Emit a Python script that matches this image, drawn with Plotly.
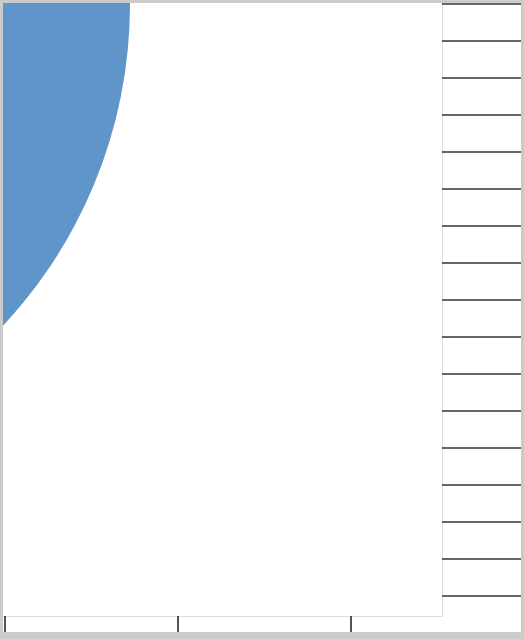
import plotly.graph_objects as go

# ---- data ----
rug_x = [1, 2, 3]
rug_y = [1, 2, 3, 4, 5, 6, 7, 8, 9, 10, 11, 12, 13, 14, 15, 16, 17]
bubble_x = [-1]
bubble_y = [17]
bubble_size = [942]

# ---- layout constants (style) ----
W, H = 524, 639
ML, MR, MT, MB = 3, 3, 3, 7
main_xdom = [0, 0.8475]
right_xdom = [0.8475, 1]
main_ydom = [0.02544, 1]
bottom_ydom = [0, 0.02544]
x_range = [0.98844, 3.52601]
y_range = [0.4595, 17.027]

fig = go.Figure()

fig.add_trace(go.Scatter(
    x=bubble_x, y=bubble_y, mode="markers",
    marker=dict(size=bubble_size, sizemode="diameter", sizeref=1,
                color="#5f95c8", opacity=1, line=dict(width=0)),
    xaxis="x", yaxis="y", showlegend=False, hoverinfo="skip"))

fig.add_trace(go.Scatter(
    x=[0] * len(rug_y), y=rug_y, mode="markers",
    marker=dict(symbol="line-ew-open", size=84, color="#333333",
                line=dict(width=1.3, color="#333333")),
    xaxis="x2", yaxis="y2", showlegend=False, hoverinfo="skip"))

fig.add_trace(go.Scatter(
    x=rug_x, y=[0] * len(rug_x), mode="markers",
    marker=dict(symbol="line-ns-open", size=20, color="#1a1a1a",
                line=dict(width=1.5, color="#1a1a1a")),
    xaxis="x3", yaxis="y3", showlegend=False, hoverinfo="skip"))

hidden = dict(showticklabels=False, showgrid=False, zeroline=False, ticks="")

fig.update_layout(
    width=W, height=H,
    margin=dict(l=ML, r=MR, t=MT, b=MB, pad=0),
    paper_bgcolor="#cbcbcb",
    plot_bgcolor="white",
    showlegend=False,
    xaxis=dict(domain=main_xdom, range=x_range, anchor="y",
               showline=True, linecolor="#dedede", linewidth=1, **hidden),
    yaxis=dict(domain=main_ydom, range=y_range, anchor="x", side="right",
               showline=True, linecolor="#dedede", linewidth=1, **hidden),
    xaxis2=dict(domain=right_xdom, range=[-1, 1], anchor="y2", showline=False, **hidden),
    yaxis2=dict(domain=main_ydom, range=y_range, anchor="x2", showline=False, **hidden),
    xaxis3=dict(domain=main_xdom, range=x_range, anchor="y3", showline=False, **hidden),
    yaxis3=dict(domain=bottom_ydom, range=[-1, 1], anchor="x3", showline=False, **hidden),
    shapes=[dict(type="rect", xref="paper", yref="paper", x0=0, x1=1, y0=0, y1=1,
                 fillcolor="white", line=dict(width=0), layer="below")],
)

fig.write_html("out.html",
               config={"displayModeBar": False},
               post_script="document.body.style.margin='0px';document.body.style.overflow='hidden';")
